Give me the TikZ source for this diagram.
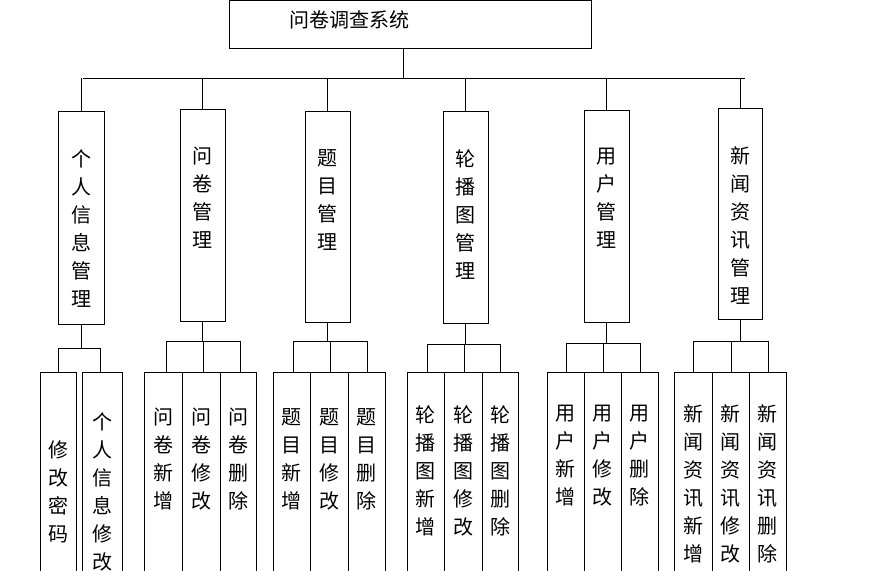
\documentclass[tikz,border=0pt]{standalone}
\usepackage{fontspec}
\setmainfont{Noto Sans CJK SC}
\begin{document}
\begin{tikzpicture}[x=1pt,y=-1pt,
  box/.style={draw,line width=0.9pt,inner sep=0pt},
  txt/.style={align=center,font=\fontsize{20}{28}\selectfont,inner sep=0pt},
  ln/.style={line width=0.9pt}]
\useasboundingbox (0,0) rectangle (896,570);
\clip (0,0) rectangle (896,570);
\node[box,minimum width=362pt,minimum height=48pt] (root) at (410,24) {};
\node[txt] at (349,20) {问卷调查系统};
\coordinate (rb) at (403,78);
\draw[ln] (root.south) ++(-7,0) -- (rb);
\draw[ln] (83,78) -- (745,78);
\foreach \n/\a/\b/\c/\d/\t in {
 a/58/104/111/324/{个\\人\\信\\息\\管\\理},
 b/180/225/109/321/{问\\卷\\管\\理},
 c/305/350/111/322/{题\\目\\管\\理},
 d/443/488/111/323/{轮\\播\\图\\管\\理},
 e/584/629/110/322/{用\\户\\管\\理},
 f/718/762/108/319/{新\\闻\\资\\讯\\管\\理}}{
  \node[box,minimum width={\b-\a},minimum height={\d-\c}] (\n) at ({(\a+\b)/2},{(\c+\d)/2}) {};
  \node[txt,anchor=north] at ({(\a+\b)/2},{\c+38}) {\t};
  \coordinate (\n top) at ({(\a+\b)/2},78);
  \draw[ln] (\n top) -- (\n.north);
}
\foreach \n/\l/\r/\y in {a/58/100/348, b/166/240/341, c/293/367/341, d/427/500/344, e/566/640/343, f/693/768/341}{
  \coordinate (\n L) at (\l,\y); \coordinate (\n R) at (\r,\y);
  \draw[ln] (\n.south) -- (\n.south |- \n L);
  \draw[ln] (\n L) -- (\n R);
}
\foreach \n/\a/\b/\p/\dx/\ty/\t in {
 a1/40/76/a/58/440/{修\\改\\密\\码},
 a2/82/122/a/100/412/{个\\人\\信\\息\\修\\改},
 b1/144/182/b/166/408/{问\\卷\\新\\增},
 b2/182/220/b/203/408/{问\\卷\\修\\改},
 b3/220/256/b/240/408/{问\\卷\\删\\除},
 c1/273/310/c/293/408/{题\\目\\新\\增},
 c2/310/348/c/330/408/{题\\目\\修\\改},
 c3/348/385/c/367/408/{题\\目\\删\\除},
 d1/407/444/d/427/405/{轮\\播\\图\\新\\增},
 d2/444/482/d/464/405/{轮\\播\\图\\修\\改},
 d3/482/518/d/500/405/{轮\\播\\图\\删\\除},
 e1/547/584/e/566/405/{用\\户\\新\\增},
 e2/584/621/e/603/405/{用\\户\\修\\改},
 e3/621/658/e/640/405/{用\\户\\删\\除},
 f1/674/712/f/693/404/{新\\闻\\资\\讯\\新\\增},
 f2/712/749/f/731/404/{新\\闻\\资\\讯\\修\\改},
 f3/749/786/f/768/404/{新\\闻\\资\\讯\\删\\除}}{
  \node[box,minimum width={\b-\a},minimum height=240pt] (\n) at ({(\a+\b)/2},492) {};
  \node[txt,anchor=north] at ({(\a+\b)/2},\ty) {\t};
  \coordinate (\n c) at (\dx,0);
  \draw[ln] (\p L -| \n c) -- (\n c |- \n.north);
}
\end{tikzpicture}
\end{document}
